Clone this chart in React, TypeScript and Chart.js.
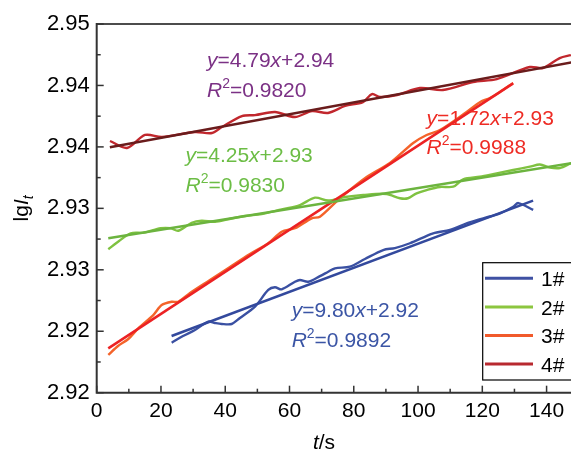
import React, { useEffect, useRef } from 'react';
import { Chart, registerables } from 'chart.js';

Chart.register(...registerables);

// ---------------- data ----------------
const SERIES_LABELS = ['1#', '2#', '3#', '4#'];

// raw measured curves (t in s, lg I_t)
const T1 = [23.33, 26.85, 30.58, 34.72, 36.81, 38.89, 42.0, 44.58, 49.26, 53.39, 55.47, 57.56, 61.7, 63.26, 65.83, 69.48, 72.05, 74.14, 78.8, 83.47, 89.16, 92.8, 97.47, 104.72, 109.92, 115.11, 120.28, 125.56, 129.61, 131.2, 135.83];
const V1 = [2.92407, 2.92461, 2.9251, 2.92578, 2.92567, 2.92559, 2.92559, 2.92608, 2.927, 2.92836, 2.92858, 2.92841, 2.92903, 2.92917, 2.92903, 2.92949, 2.92984, 2.93012, 2.93025, 2.93088, 2.93161, 2.93177, 2.93216, 2.93297, 2.93324, 2.93378, 2.93419, 2.9346, 2.93513, 2.93543, 2.93487];

const T2 = [3.61, 6.95, 10.58, 14.72, 19.91, 23.02, 25.39, 29.56, 32.67, 36.8, 40.94, 46.14, 51.33, 57.56, 63.26, 67.93, 72.05, 77.25, 82.94, 90.22, 94.36, 96.85, 99.55, 102.67, 106.81, 110.94, 114.05, 119.25, 124.45, 129.61, 134.81, 137.92, 141.03, 144.14, 147.56];
const V2 = [2.93167, 2.93234, 2.93297, 2.93302, 2.93338, 2.93338, 2.93318, 2.93383, 2.93399, 2.93391, 2.93411, 2.93438, 2.93454, 2.93492, 2.93527, 2.93587, 2.93564, 2.93592, 2.93609, 2.93617, 2.93582, 2.93582, 2.93622, 2.93649, 2.93674, 2.93676, 2.93736, 2.93757, 2.93785, 2.93812, 2.93839, 2.93857, 2.93832, 2.93828, 2.93867];

const T3 = [3.61, 6.63, 9.83, 12.94, 17.61, 20.22, 23.33, 25.39, 29.03, 35.25, 41.47, 47.69, 53.39, 57.56, 61.7, 66.89, 69.47, 75.7, 84.0, 91.25, 98.5, 102.67, 106.81, 115.11, 119.35, 122.36, 125.47, 129.61];
const V3 = [2.92307, 2.9238, 2.92437, 2.92524, 2.92632, 2.92713, 2.9274, 2.9274, 2.92811, 2.92917, 2.93023, 2.93128, 2.93216, 2.9331, 2.93338, 2.93419, 2.93432, 2.93582, 2.93755, 2.93869, 2.94032, 2.94097, 2.94137, 2.94284, 2.94365, 2.94398, 2.94447, 2.9452];

const T4 = [4.14, 9.43, 15.03, 20.32, 30.58, 35.87, 38.98, 45.2, 49.25, 55.5, 61.7, 67.0, 71.97, 77.3, 82.86, 85.66, 88.15, 93.44, 100.6, 107.75, 117.1, 124.5, 134.8, 138.85, 144.1, 147.56];
const V4 = [2.94048, 2.93991, 2.94097, 2.94081, 2.94121, 2.94113, 2.94162, 2.94251, 2.94259, 2.94284, 2.94243, 2.94292, 2.94276, 2.94333, 2.94365, 2.9443, 2.94406, 2.94422, 2.94479, 2.94463, 2.94528, 2.94552, 2.9465, 2.94642, 2.94723, 2.94747];

// linear fits (end points)
const FIT_T1 = [23.3, 135.8];
const FIT_V1 = [2.92461, 2.93563];
const FIT_T2 = [3.6, 150];
const FIT_V2 = [2.93256, 2.93878];
const FIT_T3 = [3.6, 129.6];
const FIT_V3 = [2.92361, 2.94517];
const FIT_T4 = [4.1, 150];
const FIT_V4 = [2.93997, 2.94698];

// fit equations
const EQ_SLOPES = ['9.80', '4.25', '1.72', '4.79'];
const EQ_INTERCEPTS = ['2.92', '2.93', '2.93', '2.94'];
const EQ_R2 = ['0.9892', '0.9830', '0.9988', '0.9820'];
// anchor of each equation (data coordinates of first baseline start)
const EQ_ANCHOR_T = [60.67, 27.63, 102.67, 34.32];
const EQ_ANCHOR_V = [2.92613, 2.93877, 2.94182, 2.94648];

// axes
const X_MIN = 0;
const X_MAX = 147.6;
const X_STEP = 20;
const Y_MIN = 2.92;
const Y_MAX = 2.95;
const Y_STEP = 0.005;
const Y_TICK_LABELS = ['2.92', '2.92', '2.93', '2.93', '2.94', '2.94', '2.95'];

// ---------------- styles ----------------
const FONT = '"Liberation Sans", Arial, Helvetica, sans-serif';
const RAW_COLORS = ['#3a50a2', '#7fc241', '#f4632a', '#c1272d'];
const FIT_COLORS = ['#33499d', '#6cb43f', '#ec2224', '#6a1c1c'];
const LEGEND_COLORS = ['#3f51a3', '#8cc63f', '#f15a2b', '#b8292f'];
const TEXT_COLORS = ['#3b55a5', '#6cbd45', '#ee2b24', '#7b3185'];
const TEXT_SIZE = 21;

type Part = { t: string; italic?: boolean; sup?: boolean; sub?: boolean };

function richWidth(ctx: CanvasRenderingContext2D, parts: Part[], size: number) {
  let w = 0;
  for (const p of parts) {
    const fs = p.sup || p.sub ? Math.round(size * 0.65) : size;
    ctx.font = `${p.italic ? 'italic ' : ''}${fs}px ${FONT}`;
    w += ctx.measureText(p.t).width;
  }
  return w;
}

function drawRich(ctx: CanvasRenderingContext2D, x: number, y: number, parts: Part[], size: number, color: string) {
  let cx = x;
  ctx.fillStyle = color;
  ctx.textBaseline = 'alphabetic';
  ctx.textAlign = 'left';
  for (const p of parts) {
    const fs = p.sup || p.sub ? Math.round(size * 0.65) : size;
    ctx.font = `${p.italic ? 'italic ' : ''}${fs}px ${FONT}`;
    const dy = p.sup ? -size * 0.42 : p.sub ? size * 0.25 : 0;
    ctx.fillText(p.t, cx, y + dy);
    cx += ctx.measureText(p.t).width;
  }
}

const decorPlugin = {
  id: 'decor',
  afterDraw(chart: any) {
    const ctx: CanvasRenderingContext2D = chart.ctx;
    const { left, top, bottom } = chart.chartArea;
    const xs = chart.scales.x;
    const ys = chart.scales.y;
    ctx.save();

    // frame
    ctx.strokeStyle = '#111';
    ctx.lineWidth = 1.5;
    ctx.beginPath();
    ctx.moveTo(left, top);
    ctx.lineTo(chart.width, top);
    ctx.stroke();
    ctx.strokeStyle = '#333';
    ctx.lineWidth = 2;
    ctx.beginPath();
    ctx.moveTo(left, top - 1);
    ctx.lineTo(left, bottom);
    ctx.lineTo(chart.width, bottom);
    ctx.stroke();

    // inward ticks
    ctx.lineWidth = 1.5;
    const xt = xs.ticks.map((t: any) => t.value);
    for (let i = 0; i < xt.length; i++) {
      const px = xs.getPixelForValue(xt[i]);
      ctx.beginPath();
      ctx.moveTo(px, bottom);
      ctx.lineTo(px, bottom - 7);
      ctx.stroke();
      const mid = xt[i] + X_STEP / 2;
      if (mid <= X_MAX) {
        const pm = xs.getPixelForValue(mid);
        ctx.beginPath();
        ctx.moveTo(pm, bottom);
        ctx.lineTo(pm, bottom - 4);
        ctx.stroke();
      }
    }
    const yt = ys.ticks.map((t: any) => t.value);
    for (let i = 0; i < yt.length; i++) {
      const py = ys.getPixelForValue(yt[i]);
      ctx.beginPath();
      ctx.moveTo(left, py);
      ctx.lineTo(left + 7, py);
      ctx.stroke();
      const mid = yt[i] + Y_STEP / 2;
      if (mid < Y_MAX) {
        const pm = ys.getPixelForValue(mid);
        ctx.beginPath();
        ctx.moveTo(left, pm);
        ctx.lineTo(left + 4, pm);
        ctx.stroke();
      }
    }

    // axis titles
    const yParts: Part[] = [{ t: 'lg' }, { t: 'I', italic: true }, { t: 't', italic: true, sub: true }];
    const yw = richWidth(ctx, yParts, TEXT_SIZE);
    ctx.save();
    ctx.translate(28, (top + bottom) / 2);
    ctx.rotate(-Math.PI / 2);
    drawRich(ctx, -yw / 2, 0, yParts, TEXT_SIZE, '#000');
    ctx.restore();

    const xParts: Part[] = [{ t: 't', italic: true }, { t: '/s' }];
    const xw = richWidth(ctx, xParts, TEXT_SIZE);
    drawRich(ctx, 324 - xw / 2, 449, xParts, TEXT_SIZE, '#000');

    // equations
    for (let i = 0; i < EQ_SLOPES.length; i++) {
      const ax = xs.getPixelForValue(EQ_ANCHOR_T[i]);
      const ay = ys.getPixelForValue(EQ_ANCHOR_V[i]);
      drawRich(ctx, ax, ay, [
        { t: 'y', italic: true },
        { t: '=' + EQ_SLOPES[i] },
        { t: 'x', italic: true },
        { t: '+' + EQ_INTERCEPTS[i] },
      ], TEXT_SIZE, TEXT_COLORS[i]);
      drawRich(ctx, ax, ay + 29.5, [
        { t: 'R', italic: true },
        { t: '2', sup: true },
        { t: '=' + EQ_R2[i] },
      ], TEXT_SIZE, TEXT_COLORS[i]);
    }

    // legend
    const lx = 482.7;
    const ly = 262.7;
    const lh = 117.3;
    ctx.fillStyle = '#fff';
    ctx.fillRect(lx, ly, chart.width - lx + 5, lh);
    ctx.strokeStyle = '#000';
    ctx.lineWidth = 1.2;
    ctx.strokeRect(lx, ly, chart.width - lx + 5, lh);
    for (let i = 0; i < SERIES_LABELS.length; i++) {
      const y = ly + 15.6 + i * 28.6;
      ctx.strokeStyle = LEGEND_COLORS[i];
      ctx.lineWidth = 3;
      ctx.beginPath();
      ctx.moveTo(485, y);
      ctx.lineTo(533, y);
      ctx.stroke();
      ctx.fillStyle = '#000';
      ctx.font = `${TEXT_SIZE}px ${FONT}`;
      ctx.textAlign = 'left';
      ctx.textBaseline = 'middle';
      ctx.fillText(SERIES_LABELS[i], 541, y + 2);
    }
    ctx.restore();
  },
};

function pts(t: number[], v: number[]) {
  return t.map((x, i) => ({ x, y: v[i] }));
}

export default function App() {
  const ref = useRef<HTMLCanvasElement | null>(null);
  useEffect(() => {
    if (!ref.current) return;
    const raws = [[T1, V1], [T2, V2], [T3, V3], [T4, V4]];
    const fits = [[FIT_T1, FIT_V1], [FIT_T2, FIT_V2], [FIT_T3, FIT_V3], [FIT_T4, FIT_V4]];
    const datasets: any[] = [];
    fits.forEach(([t, v], i) => {
      datasets.push({
        label: SERIES_LABELS[i] + ' fit',
        data: pts(t, v),
        borderColor: FIT_COLORS[i],
        borderWidth: 2.5,
        pointRadius: 0,
        tension: 0,
        fill: false,
      });
    });
    raws.forEach(([t, v], i) => {
      datasets.push({
        label: SERIES_LABELS[i],
        data: pts(t, v),
        borderColor: RAW_COLORS[i],
        borderWidth: 2.4,
        pointRadius: 0,
        tension: 0.3,
        fill: false,
      });
    });
    const chart = new Chart(ref.current, {
      type: 'line',
      data: { datasets },
      options: {
        responsive: false,
        animation: false,
        layout: { padding: { top: 24, left: 0, right: 0, bottom: 0 } },
        plugins: { legend: { display: false }, tooltip: { enabled: false } },
        scales: {
          x: {
            type: 'linear',
            min: X_MIN,
            max: X_MAX,
            grid: { display: false, drawTicks: false },
            border: { display: false },
            ticks: {
              stepSize: X_STEP,
              includeBounds: false,
              padding: 6,
              color: '#000',
              maxRotation: 0,
              autoSkip: false,
              font: { family: FONT, size: 21 },
            },
            afterFit: (s: any) => {
              s.height = 59.3;
            },
          },
          y: {
            type: 'linear',
            min: Y_MIN,
            max: Y_MAX,
            grid: { display: false, drawTicks: false },
            border: { display: false },
            ticks: {
              stepSize: Y_STEP,
              padding: 7,
              color: '#000',
              autoSkip: false,
              font: { family: FONT, size: 22 },
              callback: (_v: any, i: number) => Y_TICK_LABELS[i] ?? '',
            },
            afterFit: (s: any) => {
              s.width = 96.7;
            },
          },
        },
      } as any,
      plugins: [decorPlugin],
    });
    return () => chart.destroy();
  }, []);
  return (
    <div style={{ position: 'fixed', left: 0, top: 0, width: 571, height: 452, background: '#fff' }}>
      <canvas ref={ref} width={571} height={452} style={{ display: 'block' }} />
    </div>
  );
}
